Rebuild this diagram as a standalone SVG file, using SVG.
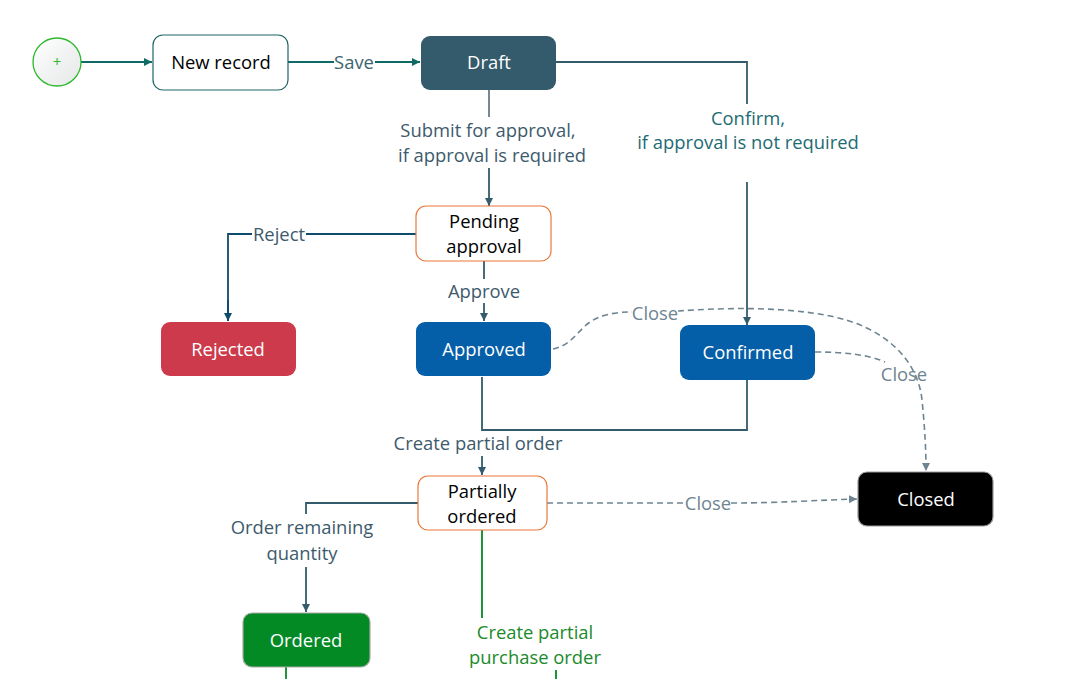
<svg xmlns="http://www.w3.org/2000/svg" width="1081" height="679" viewBox="0 0 1081 679">
<style>
text{font-family:"Open Sans","Noto Sans",sans-serif;font-size:18.4px;text-anchor:middle;dominant-baseline:central}
.n{stroke-width:1.2}
.wt{fill:#fff;font-weight:500}
.bk{fill:#000}
.lbl{fill:#3d5a6c}
.ln{fill:none;stroke:#345b6b;stroke-width:1.8}
.dash{fill:none;stroke:#6e8591;stroke-width:1.6;stroke-dasharray:6 4}
.dl{fill:#6e8591}
</style>
<defs>
<linearGradient id="sg" x1="0" y1="0" x2="1" y2="1"><stop offset="0" stop-color="#ffffff"/><stop offset="1" stop-color="#e4e8e6"/></linearGradient>
<marker id="aT" viewBox="0 0 10 10" refX="10" refY="5" markerWidth="8" markerHeight="8" markerUnits="userSpaceOnUse" orient="auto"><path d="M0,0L10,5L0,10z" fill="#0e6a64"/></marker>
<marker id="aB" viewBox="0 0 10 10" refX="10" refY="5" markerWidth="8" markerHeight="8" markerUnits="userSpaceOnUse" orient="auto"><path d="M0,0L10,5L0,10z" fill="#345b6b"/></marker>
<marker id="aR" viewBox="0 0 10 10" refX="10" refY="5" markerWidth="8" markerHeight="8" markerUnits="userSpaceOnUse" orient="auto"><path d="M0,0L10,5L0,10z" fill="#0f4c6b"/></marker>
<marker id="aG" viewBox="0 0 10 10" refX="10" refY="5" markerWidth="8" markerHeight="8" markerUnits="userSpaceOnUse" orient="auto"><path d="M0,0L10,5L0,10z" fill="#6e8591"/></marker>
</defs>
<rect width="1081" height="679" fill="#fff"/>
<g id="connectors">
<path d="M81,62H152" fill="none" stroke="#0e6a64" stroke-width="1.8" marker-end="url(#aT)"/>
<path d="M288,62H334" fill="none" stroke="#0e6a64" stroke-width="1.8"/>
<path d="M375,62H420" fill="none" stroke="#0e6a64" stroke-width="1.8" marker-end="url(#aT)"/>
<text x="354" y="61" fill="#3d6470">Save</text>
<path d="M489,90V117" fill="none" stroke="#6a7c88" stroke-width="1.8"/>
<path d="M489,168V206" class="ln" marker-end="url(#aB)"/>
<text x="488" y="129" class="lbl">Submit for approval,</text>
<text x="492" y="154" class="lbl">if approval is required</text>
<path d="M556,62H747V104" class="ln"/>
<path d="M747,182V325" class="ln" marker-end="url(#aB)"/>
<text x="748" y="117" fill="#1d6b73">Confirm,</text>
<text x="748" y="141" fill="#1d6b73">if approval is not required</text>
<path d="M416,234H306M252,234H228V321" fill="none" stroke="#0f4c6b" stroke-width="1.8"/>
<path d="M228,300V321" fill="none" stroke="#0f4c6b" stroke-width="1.8" marker-end="url(#aR)"/>
<text x="279" y="233" fill="#3d5a6c">Reject</text>
<path d="M484,261V279" class="ln"/>
<path d="M484,303V321" class="ln" marker-end="url(#aB)"/>
<text x="484" y="290" class="lbl">Approve</text>
<path d="M553,349C572,345 578,330 590,322C605,312 625,312 632,312" class="dash"/>
<path d="M678,311C720,308 780,306 830,316C885,327 918,360 922,400C925,430 926,450 926,471" class="dash" marker-end="url(#aG)"/>
<text x="655" y="312" class="dl">Close</text>
<path d="M815,352C845,352 870,355 885,362" class="dash"/>
<text x="904" y="373" class="dl">Close</text>
<path d="M547,503H686" class="dash"/>
<path d="M731,503C780,503 820,500 857,499" class="dash" marker-end="url(#aG)"/>
<text x="708" y="502" class="dl">Close</text>
<path d="M482,377V430H747V380" class="ln"/>
<path d="M482,456V475" class="ln" marker-end="url(#aB)"/>
<text x="478" y="442" class="lbl">Create partial order</text>
<path d="M418,503H306V514" class="ln"/>
<path d="M306,567V612" class="ln" marker-end="url(#aB)"/>
<text x="302" y="526" class="lbl">Order remaining</text>
<text x="302" y="552" class="lbl">quantity</text>
<path d="M482,530V618" fill="none" stroke="#038a25" stroke-width="1.8"/>
<path d="M556,670V679" fill="none" stroke="#038a25" stroke-width="1.8"/>
<text x="535" y="631" fill="#1a8a2a">Create partial</text>
<text x="535" y="656" fill="#1a8a2a">purchase order</text>
<path d="M286,667V679" fill="none" stroke="#038a25" stroke-width="1.8"/>
</g>
<g id="start"><circle cx="57" cy="62" r="24" fill="url(#sg)" stroke="#2db82d" stroke-width="1.3"/><text x="57" y="61" fill="#2db82d" style="font-size:15px">+</text></g>
<g id="new-record"><rect x="153" y="35" width="135" height="55" rx="10" fill="#fff" stroke="#1f6466" class="n"/><text x="221" y="61" class="bk">New record</text></g>
<g id="draft"><rect x="421" y="36" width="135" height="54" rx="9" fill="#345b6b"/><text x="489" y="61" class="wt">Draft</text></g>
<g id="pending"><rect x="416" y="206" width="135" height="55" rx="10" fill="#fff" stroke="#e8793a" class="n"/><text x="484" y="220" class="bk">Pending</text><text x="484" y="245" class="bk">approval</text></g>
<g id="rejected"><rect x="161" y="322" width="135" height="54" rx="9" fill="#cc3a4b"/><text x="228" y="348" class="wt">Rejected</text></g>
<g id="approved"><rect x="416" y="322" width="135" height="54" rx="9" fill="#045ea8"/><text x="484" y="348" class="wt">Approved</text></g>
<g id="confirmed"><rect x="680" y="325" width="135" height="55" rx="9" fill="#045ea8"/><text x="748" y="351" class="wt">Confirmed</text></g>
<g id="closed"><rect x="858" y="472" width="135" height="54" rx="9" fill="#000" stroke="#999" stroke-width="1.2"/><text x="926" y="498" class="wt">Closed</text></g>
<g id="partially"><rect x="418" y="476" width="129" height="54" rx="10" fill="#fff" stroke="#e8793a" class="n"/><text x="482" y="490" class="bk">Partially</text><text x="482" y="515" class="bk">ordered</text></g>
<g id="ordered"><rect x="243" y="613" width="127" height="54" rx="9" fill="#038a25" stroke="#aaa" stroke-width="1.2"/><text x="306" y="639" class="wt">Ordered</text></g>
</svg>
